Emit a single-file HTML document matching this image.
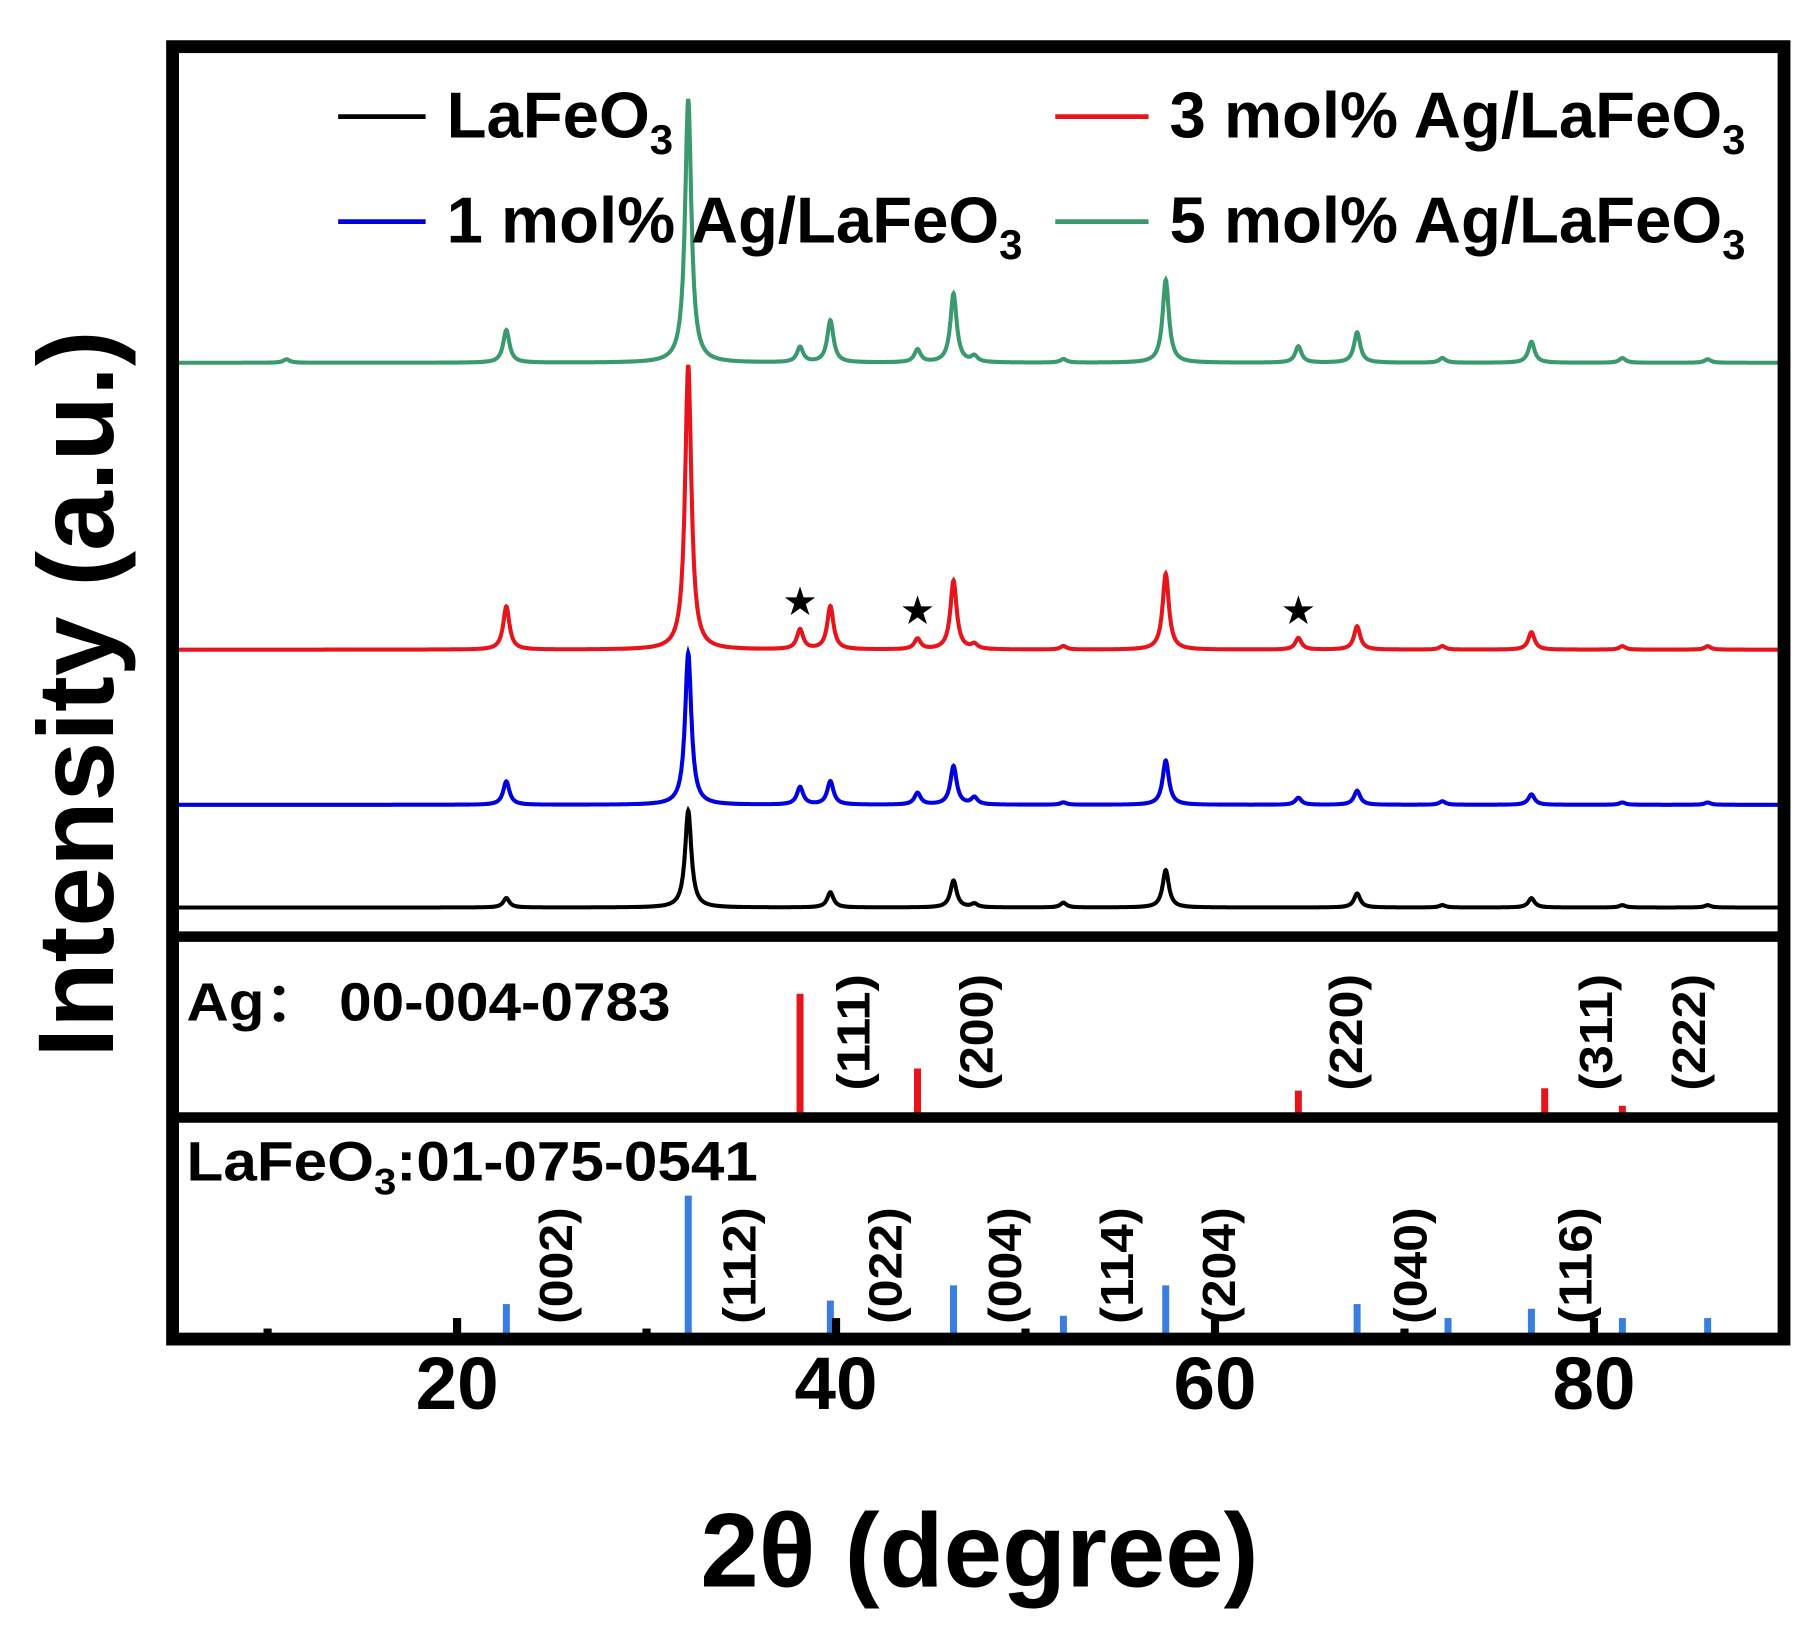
<!DOCTYPE html>
<html><head><meta charset="utf-8"><style>
html,body{margin:0;padding:0;background:#fff;}
svg{display:block;font-family:"Liberation Sans",sans-serif;font-weight:bold;}
</style></head><body>
<svg id="chart" width="1819" height="1640" viewBox="0 0 1560 1406" preserveAspectRatio="none" xmlns="http://www.w3.org/2000/svg">
<g id="traces"></g>
<g id="sticks"></g>
<g id="ticks"></g>
<rect x="148" y="40" width="1382" height="1108" fill="none" stroke="#000" stroke-width="11"/>
<line x1="148" x2="1530" y1="803" y2="803" stroke="#000" stroke-width="9"/>
<line x1="148" x2="1530" y1="958" y2="958" stroke="#000" stroke-width="9"/>
<g font-size="56">
<line x1="290" x2="365" y1="100" y2="100" stroke="#000" stroke-width="4"/>
<text x="383" y="118">LaFeO<tspan font-size="36" dy="14">3</tspan></text>
<line x1="290" x2="365" y1="190" y2="190" stroke="#0000e0" stroke-width="4"/>
<text x="383" y="208">1 mol% Ag/LaFeO<tspan font-size="36" dy="14">3</tspan></text>
<line x1="905" x2="985" y1="100" y2="100" stroke="#e8141c" stroke-width="4"/>
<text x="1003" y="118">3 mol% Ag/LaFeO<tspan font-size="36" dy="14">3</tspan></text>
<line x1="905" x2="985" y1="190" y2="190" stroke="#3a9a6e" stroke-width="4"/>
<text x="1003" y="208">5 mol% Ag/LaFeO<tspan font-size="36" dy="14">3</tspan></text>
</g>
<text x="160" y="875" font-size="46" textLength="415" lengthAdjust="spacingAndGlyphs">Ag：  00-004-0783</text>
<text x="160" y="1012" font-size="48" textLength="490" lengthAdjust="spacingAndGlyphs">LaFeO<tspan font-size="32" dy="12">3</tspan><tspan dy="-12">:01-075-0541</tspan></text>
<text transform="translate(97,595) rotate(-90)" text-anchor="middle" font-size="92">Intensity (a.u.)</text>
<text x="840" y="1360" text-anchor="middle" font-size="90">2θ (degree)</text>
<g id="labels"></g>
</svg>
<script>
const peakPos = [11, 22.6, 32.2, 38.1, 39.7, 44.3, 46.2, 47.3, 52.0, 57.4, 64.4, 67.5, 72.0, 76.7, 81.5, 86.0];
const blackHeights = [0, 8, 83, 0, 13, 0, 23, 3, 4, 32, 0, 12, 2, 8, 2, 2];
const blueHeights = [0, 20, 130, 15, 20, 10, 33, 6, 2, 38, 6, 12, 3, 9, 2, 2];
const redHeights = [0, 37, 244, 17, 37, 9, 59, 4, 3, 65, 10, 20, 3, 15, 3, 3];
const greenHeights = [3, 28, 226, 13, 36, 11, 59, 5, 3, 71, 14, 26, 4, 18, 4, 3];
const agSticksPos = [38.1, 44.3, 64.4, 77.4, 81.5];
const agSticksH = [103, 39, 20, 22, 7];
const agLabels = ["(111)", "(200)", "(220)", "(311)", "(222)"];
const agLabelPos = [40.9, 47.4, 66.9, 80.1, 85.0];
const lfSticksPos = [22.6, 32.2, 39.7, 46.2, 52.0, 57.4, 67.5, 72.3, 76.7, 81.5, 86.0];
const lfSticksH = [27, 120, 30, 43, 17, 43, 27, 15, 23, 15, 15];
const lfLabels = ["(002)", "(112)", "(022)", "(004)", "(114)", "(204)", "(040)", "(116)"];
const lfLabelPos = [25.2, 34.9, 42.6, 48.9, 54.8, 60.2, 70.3, 79.0];
const majorTicks = [20, 40, 60, 80];
const minorTicks = [10, 30, 50, 70];
const starPos = [38.1, 44.3, 64.4];

const NS = "http://www.w3.org/2000/svg";
function xs(d){ return 392 + (d - 20) * 16.25; }
function mk(tag, attrs, parent){ const e = document.createElementNS(NS, tag); for (const k in attrs) e.setAttribute(k, attrs[k]); parent.appendChild(e); return e; }
const tracesG = document.getElementById('traces');
const sticksG = document.getElementById('sticks');
const ticksG = document.getElementById('ticks');
const labelsG = document.getElementById('labels');
const GAM = 0.2;
function inten(heights, t){
  let I = 0;
  for (let i = 0; i < peakPos.length; i++){ const u = (t - peakPos[i]) / GAM; I += heights[i] / (1 + u * u); }
  return I;
}
function trace(heights, base, color, name){
  let d = "";
  for (let t = 5.2; t <= 89.8; t += 0.02){
    d += (d ? "L" : "M") + xs(t).toFixed(1) + "," + (base - inten(heights, t)).toFixed(1);
  }
  const p = mk('path', {d: d, fill: "none", stroke: color, "stroke-width": 3.5}, tracesG);
  
  
}
trace(blackHeights, 778, "#000", "trace-lafeo3");
trace(blueHeights, 690, "#0000e0", "trace-1mol");
trace(redHeights, 557, "#e8141c", "trace-3mol");
trace(greenHeights, 311, "#3a9a6e", "trace-5mol");

starPos.forEach((p, i) => {
  const I = inten(redHeights, p);
  const s = mk('text', {x: xs(p), y: 557 - I - 12, "text-anchor": "middle", "font-size": 34, "font-family": "DejaVu Sans, sans-serif"}, labelsG);
  
  
  s.textContent = "★";
});

agSticksPos.forEach((p, i) => {
  const l = mk('line', {x1: xs(p), x2: xs(p), y1: 955, y2: 955 - agSticksH[i], stroke: "#e8141c", "stroke-width": 6}, sticksG);
  
  
});
lfSticksPos.forEach((p, i) => {
  const l = mk('line', {x1: xs(p), x2: xs(p), y1: 1145, y2: 1145 - lfSticksH[i], stroke: "#3a7de0", "stroke-width": 6}, sticksG);
  
  
});
majorTicks.forEach(v => {
  const l = mk('line', {x1: xs(v), x2: xs(v), y1: 1145, y2: 1130, stroke: "#000", "stroke-width": 7}, ticksG);
  
  
  const t = mk('text', {x: xs(v), y: 1208, "text-anchor": "middle", "font-size": 64}, ticksG);
  
  
  t.textContent = v;
});
minorTicks.forEach(v => {
  const l = mk('line', {x1: xs(v), x2: xs(v), y1: 1145, y2: 1139, stroke: "#000", "stroke-width": 7}, ticksG);
  
  
});
function hkl(list, pos, baseY, name){
  list.forEach((s, i) => {
    const t = mk('text', {transform: "translate(" + (xs(pos[i]) + 14) + "," + baseY + ") rotate(-90)", "font-size": 40, textLength: 100, lengthAdjust: "spacingAndGlyphs"}, labelsG);
    
    
    t.textContent = s;
  });
}
hkl(agLabels, agLabelPos, 935, 'ag-hkl-label');
hkl(lfLabels, lfLabelPos, 1135, 'lafeo3-hkl-label');
</script>
</body></html>
